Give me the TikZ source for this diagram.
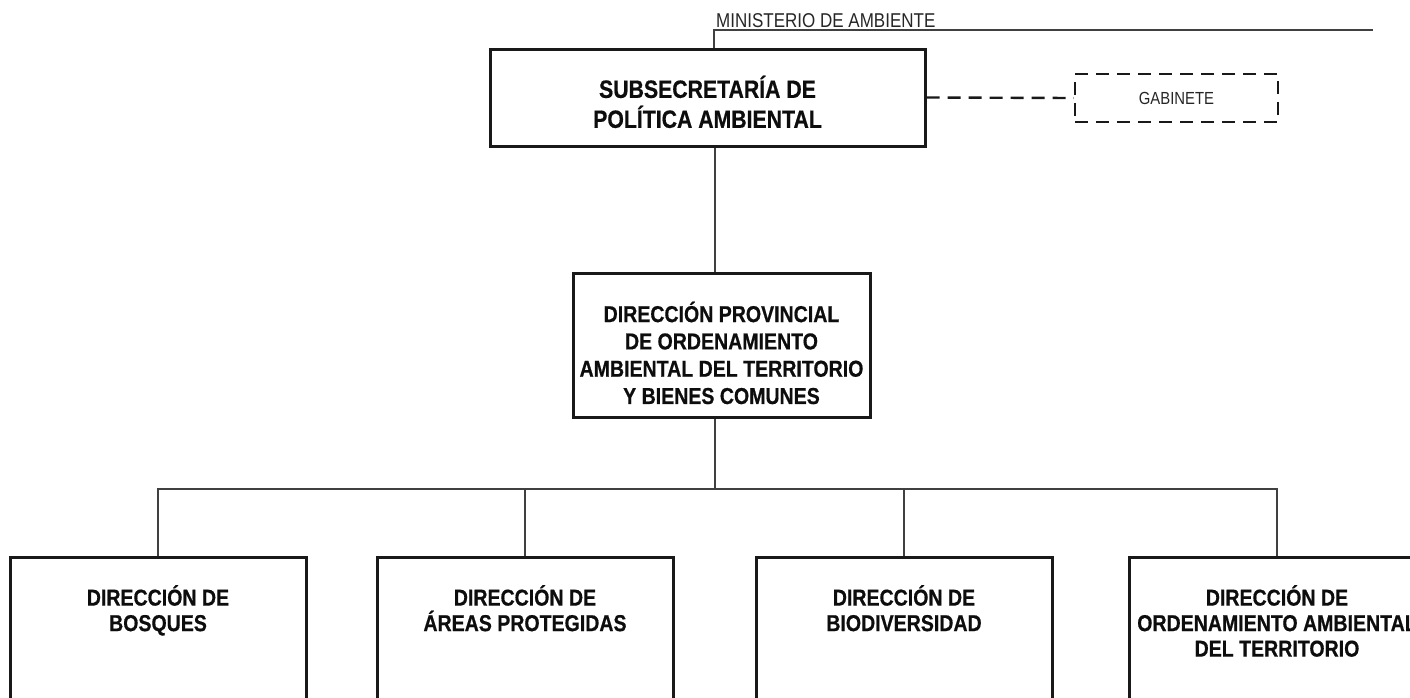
\documentclass[tikz,border=0pt]{standalone}
\usepackage{fontspec}
\setmainfont{Liberation Sans}[FakeStretch=0.85, BoldFeatures={FakeBold=0.6}]
\usetikzlibrary{positioning}
\tikzset{%
	boxnode/.style={draw=black!90, line width=3pt, minimum width=296pt, inner sep=0pt},
	gabnode/.style={draw=black!90, line width=2.4pt, dash pattern=on 13pt off 8pt, minimum width=203pt, minimum height=48pt, font=\fontsize{17.5}{20}\selectfont, text=black!85},
	txt/.style={align=center, font=\bfseries\fontsize{23}{25.5}\selectfont, text=black!95, inner sep=0pt},
	ln/.style={draw=black!75, line width=1.4pt},
	dsh/.style={draw=black!90, line width=2.4pt, dash pattern=on 13pt off 8pt}
}

\begin{document}
\begin{tikzpicture}[x=1pt, y=-1pt]
	\useasboundingbox (0,0) rectangle (1410,697);
	\clip (0,0) rectangle (1410,697);

	% subsecretaria y gabinete
	\node[boxnode, minimum width=435pt, minimum height=97pt] (sub) at (707.5,97.5) {};
	\node[txt, font=\bfseries\fontsize{25}{30}\selectfont] (sub-t) [below=28pt of sub.north] {SUBSECRETARÍA DE\\POLÍTICA AMBIENTAL};
	\node[gabnode] (gab) at (1176.5,98) {GABINETE};
	\node[anchor=south west, inner xsep=2pt, inner ysep=2pt, font=\fontsize{20}{24}\selectfont, text=black!85] (minis) at (714,30) {MINISTERIO DE AMBIENTE};
	\coordinate (minend) at (1373,30);

	% direccion provincial
	\node[boxnode, minimum width=297pt, minimum height=144pt] (prov) at (721.5,345) {};
	\node[txt, font=\bfseries\fontsize{23}{27.3}\selectfont] (prov-t) [below=30pt of prov.north] {DIRECCIÓN PROVINCIAL\\DE ORDENAMIENTO\\AMBIENTAL DEL TERRITORIO\\Y BIENES COMUNES};

	% direcciones
	\node[boxnode, minimum height=220pt, anchor=north] (bosques) at (158,556) {};
	\node[boxnode, minimum height=220pt, anchor=north] (areas) at (525,556) {};
	\node[boxnode, minimum height=220pt, anchor=north] (biodiv) at (904,556) {};
	\node[boxnode, minimum height=220pt, anchor=north] (ordam) at (1277,556) {};
	\node[txt] (bosques-t) [below=29pt of bosques.north] {DIRECCIÓN DE\\BOSQUES};
	\node[txt] (areas-t) [below=29pt of areas.north] {DIRECCIÓN DE\\ÁREAS PROTEGIDAS};
	\node[txt] (biodiv-t) [below=29pt of biodiv.north] {DIRECCIÓN DE\\BIODIVERSIDAD};
	\node[txt] (ordam-t) [below=29pt of ordam.north] {DIRECCIÓN DE\\ORDENAMIENTO AMBIENTAL\\DEL TERRITORIO};

	% lineas
	\coordinate (axis) at (715,0);
	\coordinate (bus) at (715,489);
	\draw[ln] (sub.north -| minis.south west) -- (minis.south west) -- (minend);
	\draw[ln] (sub.south -| axis) -- (prov.north -| axis);
	\draw[ln] (prov.south -| axis) -- (bus);
	\draw[ln] (bosques.north) |- (ordam.north |- bus) -- (ordam.north);
	\foreach \n in {areas,biodiv}
		\draw[ln] (\n.north) -- (\n.north |- bus);
	\draw[dsh] (sub.east) -- (gab.west);
\end{tikzpicture}
\end{document}
